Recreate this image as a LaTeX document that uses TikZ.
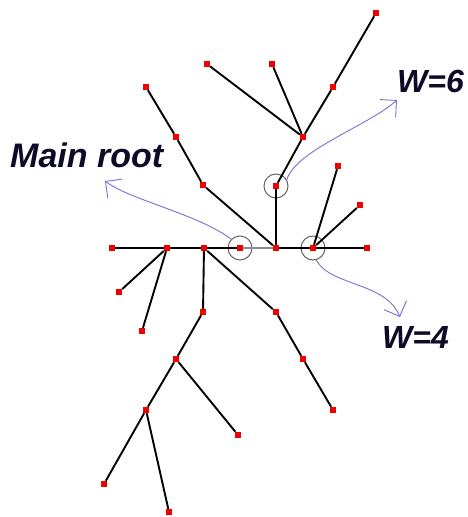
\documentclass[tikz,border=0pt]{standalone}
\usepackage{fontspec}
\setmainfont{Liberation Sans}
\usetikzlibrary{arrows.meta}
\definecolor{nodered}{RGB}{240,0,0}
\definecolor{arrowblue}{RGB}{115,115,215}
\definecolor{textnavy}{RGB}{12,12,40}
\begin{document}
\begin{tikzpicture}[x=1pt,y=-1pt,
  pt/.style={rectangle,fill=nodered,minimum size=6pt,inner sep=0pt},
  ring/.style={circle,draw=black!60,line width=1pt,minimum size=24pt,inner sep=0pt},
  edge/.style={line width=1.9pt,black},
  grayedge/.style={line width=1.9pt,black!45},
  pointer/.style={arrowblue,line width=0.9pt,-{Straight Barb[length=12pt,width=24pt]}},
  lbl/.style={font=\fontsize{32}{36}\selectfont\bfseries\itshape,text=textnavy,inner sep=0pt}]
\useasboundingbox (0,0) rectangle (467,517);
% rings
\node[ring] (k1) at (240,248) {};
\node[ring] (k2) at (276,186) {};
\node[ring] (k3) at (313,248) {};
% points
\node[pt] (a1) at (376,13) {};
\node[pt] (a2) at (333,87) {};
\node[pt] (a3) at (272,64) {};
\node[pt] (a4) at (303,137) {};
\node[pt] (a5) at (207,64) {};
\node[pt] (c1) at (276,186) {};
\node[pt] (b1) at (146,87) {};
\node[pt] (b2) at (176,137) {};
\node[pt] (b3) at (203,185) {};
\node[pt] (h1) at (112,248) {};
\node[pt] (h2) at (167,248) {};
\node[pt] (h3) at (204,248) {};
\node[pt] (h4) at (240,248) {};
\node[pt] (h5) at (276,248) {};
\node[pt] (h6) at (313,248) {};
\node[pt] (h7) at (367,248) {};
\node[pt] (r1) at (338,166) {};
\node[pt] (r2) at (360,205) {};
\node[pt] (l1) at (119,292) {};
\node[pt] (l2) at (142,331) {};
\node[pt] (d1) at (203,312) {};
\node[pt] (d2) at (176,359) {};
\node[pt] (d3) at (146,410) {};
\node[pt] (d4) at (238,435) {};
\node[pt] (d5) at (104,484) {};
\node[pt] (d6) at (169,512) {};
\node[pt] (e1) at (276,312) {};
\node[pt] (e2) at (303,359) {};
\node[pt] (e3) at (333,410) {};
% edges
\draw[edge] (a1) -- (a2) -- (a4);
\draw[edge] (a3) -- (a4);
\draw[edge] (a5) -- (a4);
\draw[edge] (a4) -- (c1) -- (h5);
\draw[edge] (b1) -- (b2) -- (b3) -- (h5);
\draw[edge] (h1) -- (h2) -- (h3) -- (h4);
\draw[grayedge] (h4) -- (h5);
\draw[edge] (h5) -- (h6) -- (h7);
\draw[edge] (h6) -- (r1);
\draw[edge] (h6) -- (r2);
\draw[edge] (h2) -- (l1);
\draw[edge] (h2) -- (l2);
\draw[edge] (h3) -- (d1) -- (d2) -- (d3) -- (d5);
\draw[edge] (d2) -- (d4);
\draw[edge] (d3) -- (d6);
\draw[edge] (h3) -- (e1) -- (e2) -- (e3);
% labels
\node[lbl,font=\fontsize{34}{38}\selectfont\bfseries\itshape,anchor=base west] (mr) at (10,167) {Main root};
\node[lbl,anchor=base west] (w6) at (397,92) {W=6};
\node[lbl,anchor=base west] (w4) at (382,348) {W=4};
% pointers
\coordinate (t1) at (105,181);
\coordinate (t2) at (397,100);
\coordinate (t3) at (400,317);
\draw[pointer] (k1.135) .. controls (198,214) and (130,200) .. (t1);
\draw[pointer] (k2.30) .. controls (296,150) and (368,126) .. (t2);
\draw[pointer] (k3.-75) .. controls (330,286) and (386,282) .. (t3);
\end{tikzpicture}
\end{document}
